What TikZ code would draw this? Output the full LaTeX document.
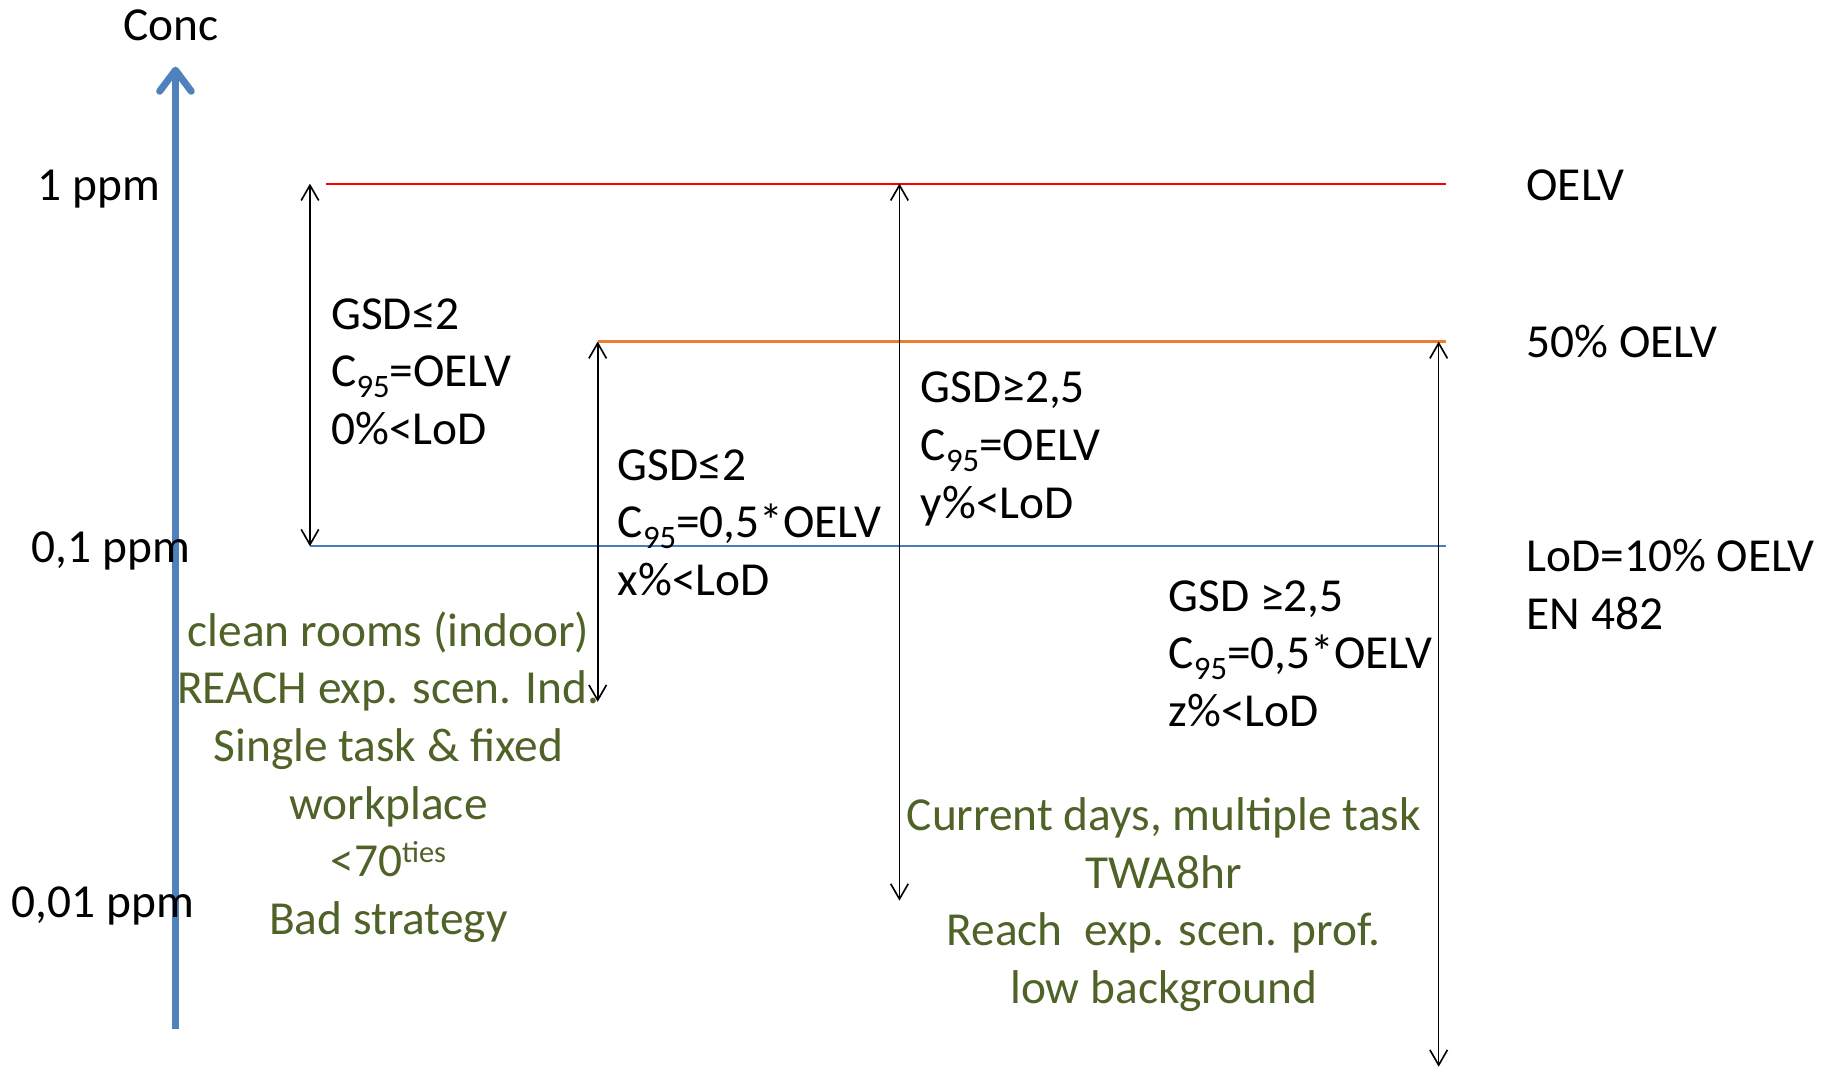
\documentclass[tikz,border=0pt]{standalone}
\usepackage{fontspec}
\setmainfont{Carlito}
\usetikzlibrary{arrows.meta}
\definecolor{axisblue}{HTML}{4F81BD}
\definecolor{limitred}{HTML}{FF0000}
\definecolor{halforange}{HTML}{ED7D31}
\definecolor{lodblue}{HTML}{4A7EBB}
\definecolor{notegreen}{HTML}{4F6228}
% subscript and superscript as set in the slide
\newcommand\lowidx[1]{\raisebox{-9pt}{\fontsize{28}{28}\selectfont #1}}
\newcommand\highidx[1]{\raisebox{12pt}{\fontsize{26}{26}\selectfont #1}}
\begin{document}
\begin{tikzpicture}[x=1pt,y=-1pt,
  lbl/.style={font=\fontsize{40.5}{49.3}\selectfont, inner sep=0pt},
  blk/.style={lbl, align=left, anchor=base west},
  note/.style={lbl, align=center, text=notegreen, anchor=base},
  level/.style={line width=1.8pt},
  span/.style={line width=1.4pt,
    {Straight Barb[length=13pt,width=15pt]}-{Straight Barb[length=13pt,width=15pt]}}]
\useasboundingbox (0,0) rectangle (1568,913);

% concentration axis
\coordinate (ax0) at (150,880);
\coordinate (ax1) at (150,57);
\draw[axisblue, line width=6pt, -{Straight Barb[length=18pt,width=27pt,round]}] (ax0) -- (ax1);
\node[lbl, anchor=base] (conc) at (146,35) {Conc};
\node[lbl, anchor=base west] (t1) at (32,171) {1 ppm};
\node[lbl, anchor=base west] (t01) at (27,481) {0,1 ppm};
\node[lbl, anchor=base west] (t001) at (10,784) {0,01 ppm};

% reference levels
\coordinate (oelvL) at (279,157);  \coordinate (oelvR) at (1236,157);
\coordinate (halfL) at (511,292);  \coordinate (halfR) at (1236,292);
\coordinate (lodL)  at (265,467);  \coordinate (lodR)  at (1236,467);
\draw[level, limitred]   (oelvL) -- (oelvR);
\draw[level, halforange] (halfL) -- (halfR);
\draw[level, lodblue]    (lodL) -- (lodR);
\node[lbl, anchor=base west] (oelv) at (1305,171) {OELV};
\node[lbl, anchor=base west] (half) at (1305,306) {50\% OELV};
% multi-line nodes are placed by the baseline of their last line
\node[blk] (lod) at (1305,538) {LoD=10\% OELV\\EN 482};

% measurement ranges
\coordinate (r1t) at (265,157); \coordinate (r1b) at (265,467);
\coordinate (r2t) at (511,292); \coordinate (r2b) at (511,600);
\coordinate (r3t) at (769,157); \coordinate (r3b) at (769,770);
\coordinate (r4t) at (1230,292); \coordinate (r4b) at (1230,912);
\draw[span] (r1t) -- (r1b);
\draw[span] (r2t) -- (r2b);
\draw[span] (r3t) -- (r3b);
\draw[span] (r4t) -- (r4b);

% scenario parameters
\node[blk] (s1) at (283,380) {GSD≤2\\C\lowidx{95}=OELV\\0\%<LoD};
\node[blk] (s2) at (528,509) {GSD≤2\\C\lowidx{95}=0,5*OELV\\x\%<LoD};
\node[blk] (s3) at (787,443) {GSD≥2,5\\C\lowidx{95}=OELV\\y\%<LoD};
\node[blk] (s4) at (999,621) {GSD ≥2,5\\C\lowidx{95}=0,5*OELV\\z\%<LoD};

% situations
\node[note] (old) at (332,799) {clean rooms (indoor)\\REACH exp. scen. Ind.\\Single task \& fixed\\workplace\\<70\highidx{ties}\\Bad strategy};
\node[note] (now) at (995,858) {Current days, multiple task\\TWA8hr\\Reach\ \ exp. scen. prof.\\low background};
\end{tikzpicture}
\end{document}
